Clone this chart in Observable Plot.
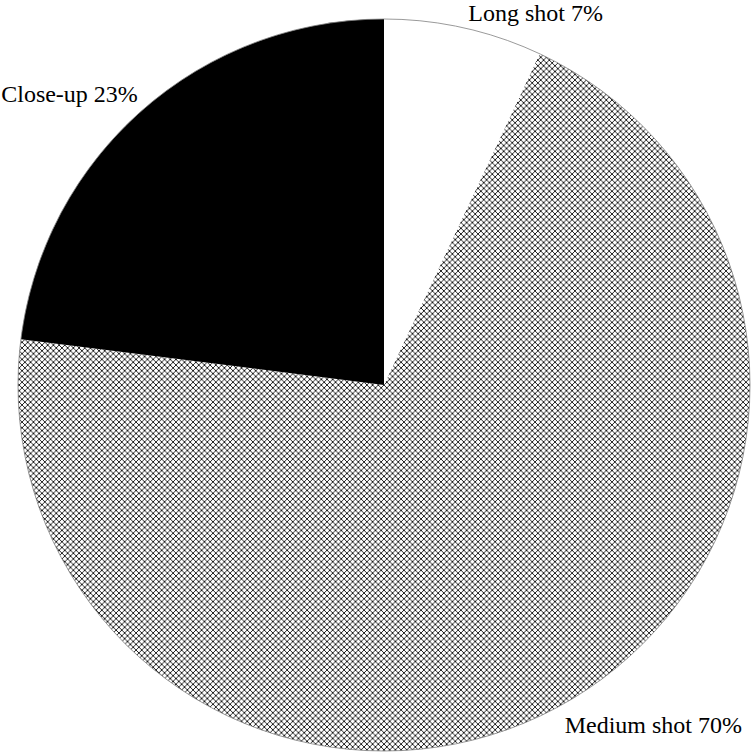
<!DOCTYPE html>
<html><head><meta charset="utf-8">
<script src="https://cdn.jsdelivr.net/npm/d3@7"></script>
<script src="https://cdn.jsdelivr.net/npm/@observablehq/plot@0.6"></script>
<style>body{margin:0;background:#fff}</style>
</head><body><div id="chart"></div>
<script>
const categories = ["Long shot", "Medium shot", "Close-up"];
const shares = [7, 70, 23];
const fills = ["white", "url(#crosshatch)", "black"];

const data = categories.map((c, i) => ({category: c, share: shares[i]}));
const arcs = d3.pie().sort(null).value(d => d.share)(data);
const labelR = 1.05;
const labels = arcs.map(a => {
  const m = (a.startAngle + a.endAngle) / 2;
  return {text: `${a.data.category} ${a.data.share}%`, x: labelR * Math.sin(m), y: labelR * Math.cos(m)};
});

function pieMark(index, scales) {
  const {x, y} = scales;
  const cx = x(0), cy = y(0), r = x(1) - x(0);
  const g = d3.create("svg:g");
  const p = g.append("defs").append("pattern")
    .attr("id", "crosshatch").attr("patternUnits", "userSpaceOnUse")
    .attr("width", 5.7).attr("height", 5.7);
  p.append("rect").attr("width", 5.7).attr("height", 5.7).attr("fill", "white");
  p.append("path").attr("d", "M-1,-1L6.7,6.7M6.7,-1L-1,6.7")
    .attr("stroke", "black").attr("stroke-width", 0.85).attr("fill", "none");
  const arc = d3.arc().innerRadius(0).outerRadius(r);
  g.append("g").attr("transform", `translate(${cx},${cy})`)
    .selectAll("path").data(arcs).join("path")
    .attr("d", arc)
    .attr("fill", (d, i) => fills[i]);
  g.append("circle").attr("cx", cx).attr("cy", cy).attr("r", r)
    .attr("fill", "none").attr("stroke", "#808080").attr("stroke-width", 0.8);
  return g.node();
}

const textStyle = {
  x: "x", y: "y", text: "text",
  lineAnchor: "middle",
  fontFamily: "Liberation Serif",
  fontSize: 24,
  fill: "black"
};

const chart = Plot.plot({
  width: 755,
  height: 756,
  margin: 0,
  x: {domain: [-1, 1], range: [18, 750], axis: null},
  y: {domain: [-1, 1], range: [751, 19], axis: null},
  marks: [
    pieMark,
    Plot.text([labels[0]], {...textStyle, textAnchor: "start", dy: 3}),
    Plot.text([labels[1]], {...textStyle, textAnchor: "start", dx: -5, dy: 3}),
    Plot.text([labels[2]], {...textStyle, textAnchor: "start", dx: 1, dy: -3, x: () => -1.05})
  ]
});
document.getElementById("chart").append(chart);
</script>
</body></html>
